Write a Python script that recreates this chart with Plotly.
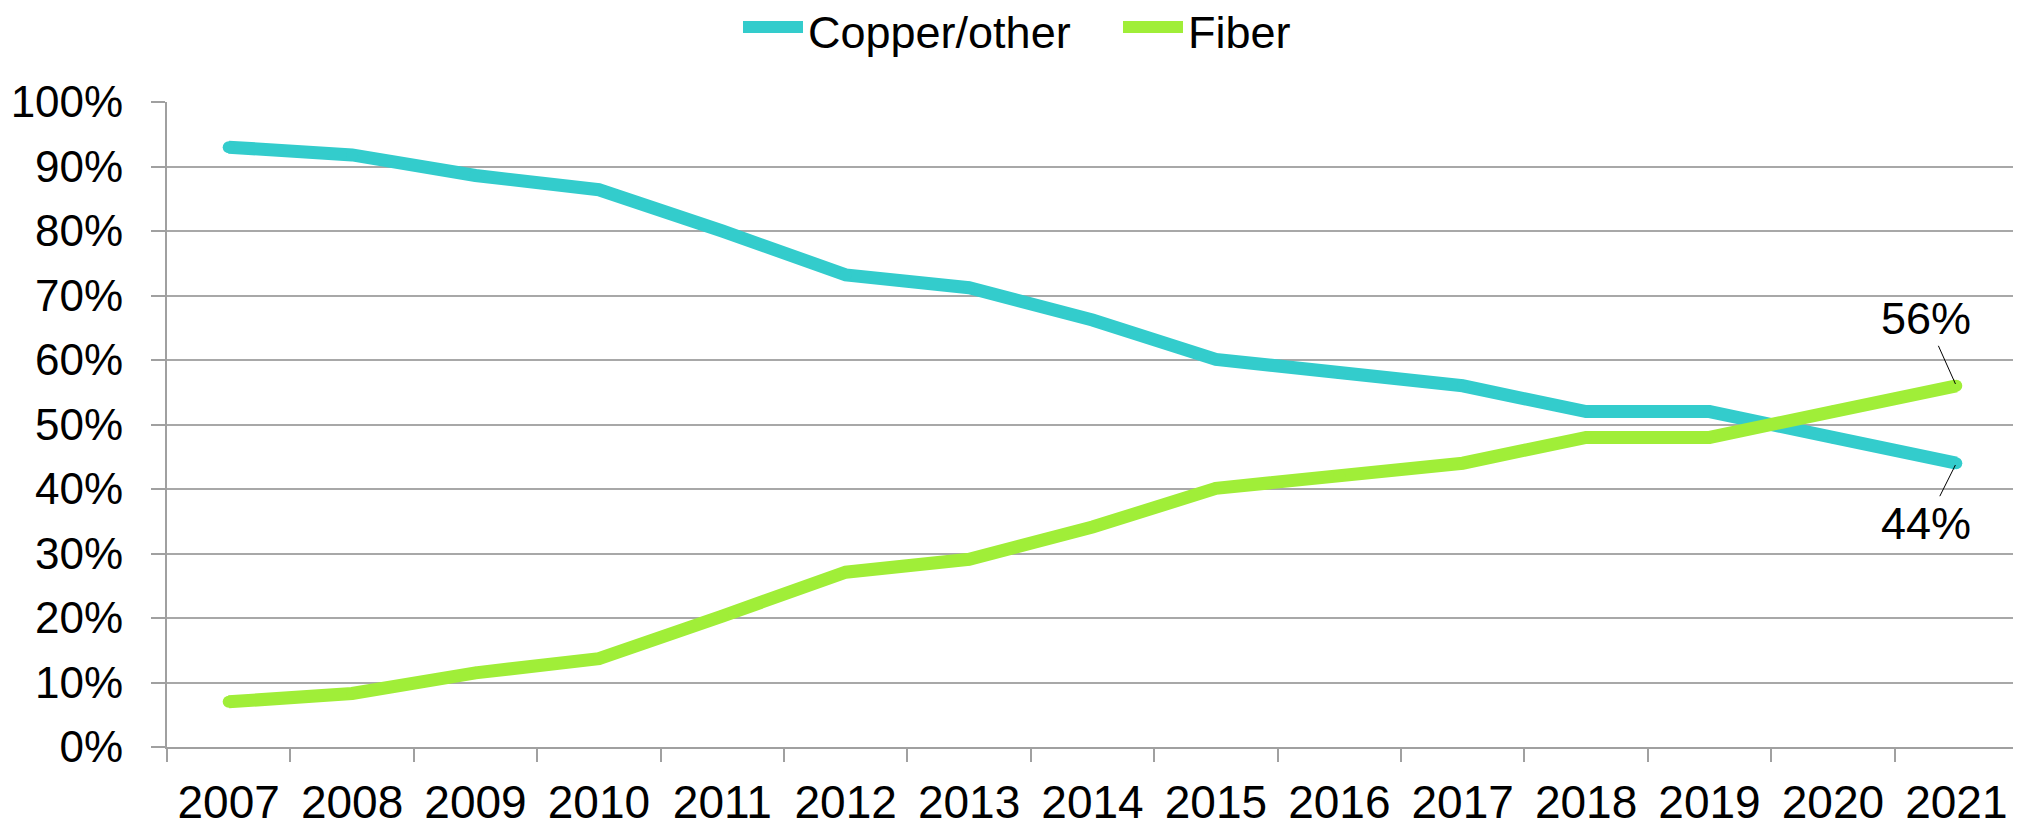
import plotly.graph_objects as go

years = ['2007', '2008', '2009', '2010', '2011', '2012', '2013', '2014',
         '2015', '2016', '2017', '2018', '2019', '2020', '2021']
copper = [93, 91.8, 88.6, 86.4, 80, 73.2, 71.2, 66.2, 60.1, 58, 56, 52, 52, 48, 44]
fiber = [7, 8.3, 11.5, 13.7, 20.3, 27.1, 29.1, 34.1, 40.1, 42, 44, 48, 48, 52, 56]
yticks = [0, 10, 20, 30, 40, 50, 60, 70, 80, 90, 100]
ytick_text = ['0%', '10%', '20%', '30%', '40%', '50%', '60%', '70%', '80%', '90%', '100%']
end_labels = ['44%', '56%']

teal = '#33CCCC'
lime = '#A0EE38'
font = 'Liberation Sans, Arial, sans-serif'

# the page has an 8px body margin, so the figure is a bit smaller than the window
W, H = 2013, 819
L, R, T, B = 159, 3, 94, 80

fig = go.Figure()
fig.add_trace(go.Scatter(x=years, y=copper, name='Copper/other', mode='lines+markers',
                         line=dict(color=teal, width=13),
                         marker=dict(color=teal, size=12)))
fig.add_trace(go.Scatter(x=years, y=fiber, name='Fiber', mode='lines+markers',
                         line=dict(color=lime, width=13),
                         marker=dict(color=lime, size=12)))

# end labels with little leader lines
last = len(years) - 1
fig.add_annotation(xref='x', yref='y', x=last, y=fiber[-1], text=end_labels[1],
                   showarrow=True, arrowhead=0, arrowwidth=1, arrowcolor='black',
                   standoff=2, ax=-30, ay=-67,
                   font=dict(size=45, color='black', family=font))
fig.add_annotation(xref='x', yref='y', x=last, y=copper[-1], text=end_labels[0],
                   showarrow=True, arrowhead=0, arrowwidth=1, arrowcolor='black',
                   standoff=2, ax=-30, ay=60,
                   font=dict(size=45, color='black', family=font))

# hand made legend at the top (wider swatches than plotly's own)
legend_items = [('Copper/other', teal, 735), ('Fiber', lime, 1115)]
pw, ph = W - L - R, H - T - B
for name, col, x0 in legend_items:
    fig.add_shape(type='line', xref='paper', yref='paper',
                  x0=(x0 - L) / pw, x1=(x0 + 60 - L) / pw,
                  y0=(ph + T - 19) / ph, y1=(ph + T - 19) / ph,
                  line=dict(color=col, width=12))
    fig.add_annotation(xref='paper', yref='paper', x=(x0 + 63 - L) / pw,
                       y=(ph + T - 24) / ph, text=name, showarrow=False,
                       xanchor='left', yanchor='middle',
                       font=dict(size=45, color='black', family=font))

fig.update_layout(
    width=W, height=H,
    margin=dict(l=L, r=R, t=T, b=B, autoexpand=False),
    paper_bgcolor='white', plot_bgcolor='white',
    font=dict(family=font, color='black', size=44),
    showlegend=False,
    xaxis=dict(type='category', tickson='boundaries', range=[-0.5, 14.5],
               showgrid=False, showline=True, linecolor='#A0A0A0', linewidth=2,
               ticks='outside', ticklen=13, tickcolor='#A0A0A0', tickwidth=1.5,
               tickfont=dict(size=46), ticklabelstandoff=14, automargin=False),
    yaxis=dict(range=[0, 100], tickvals=yticks, ticktext=ytick_text,
               showgrid=True, gridcolor='#A8A8A8', gridwidth=1.5,
               showline=True, linecolor='#A0A0A0', linewidth=2,
               ticks='outside', ticklen=14, tickcolor='#A0A0A0', tickwidth=1.5,
               tickfont=dict(size=44), ticklabelstandoff=19, zeroline=False,
               automargin=False),
)

fig.write_html('out.html')
